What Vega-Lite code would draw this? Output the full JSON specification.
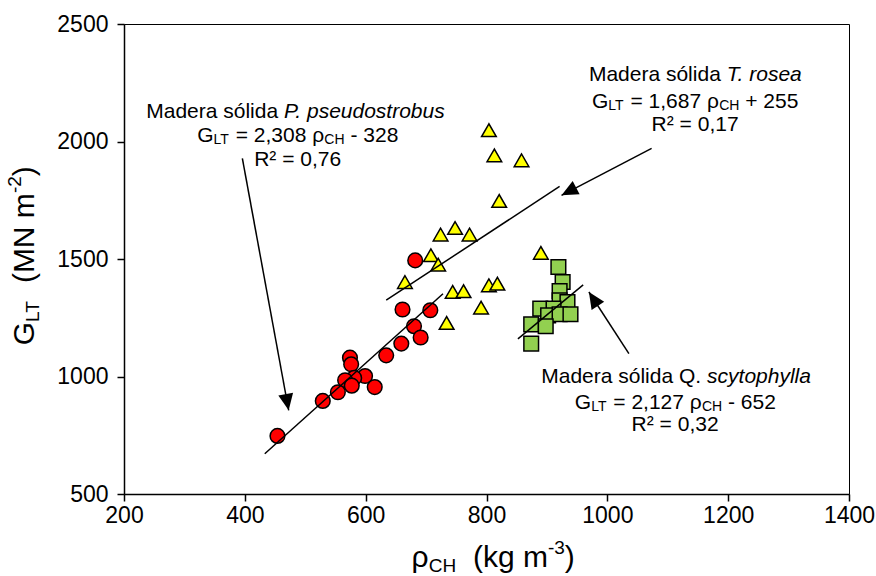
{
  "$schema": "https://vega.github.io/schema/vega-lite/v6.json",
  "width": 725,
  "height": 470,
  "autosize": {"type": "none"},
  "padding": {"left": 124, "top": 24, "right": 27, "bottom": 82},
  "background": "#ffffff",
  "config": {
    "font": "Liberation Sans",
    "view": {"stroke": "#000000", "strokeWidth": 1},
    "axis": {
      "domainColor": "#000000", "domainWidth": 1.5, "tickColor": "#000000", "tickWidth": 1.5, "tickSize": 7,
      "labelFont": "Liberation Sans", "labelFontSize": 23, "labelColor": "#000000", "grid": false,
      "labelFlush": false, "labelOverlap": false, "format": "d"
    }
  },
  "datasets": {
    "wood": [
      {"species": "P. pseudostrobus", "x": 682, "y": 1494},
      {"species": "P. pseudostrobus", "x": 661, "y": 1285},
      {"species": "P. pseudostrobus", "x": 707, "y": 1282},
      {"species": "P. pseudostrobus", "x": 680, "y": 1214},
      {"species": "P. pseudostrobus", "x": 691, "y": 1166},
      {"species": "P. pseudostrobus", "x": 659, "y": 1140},
      {"species": "P. pseudostrobus", "x": 634, "y": 1090},
      {"species": "P. pseudostrobus", "x": 574, "y": 1080},
      {"species": "P. pseudostrobus", "x": 576, "y": 1052},
      {"species": "P. pseudostrobus", "x": 599, "y": 1002},
      {"species": "P. pseudostrobus", "x": 581, "y": 994},
      {"species": "P. pseudostrobus", "x": 566, "y": 984},
      {"species": "P. pseudostrobus", "x": 577, "y": 961},
      {"species": "P. pseudostrobus", "x": 615, "y": 955},
      {"species": "P. pseudostrobus", "x": 554, "y": 933},
      {"species": "P. pseudostrobus", "x": 529, "y": 896},
      {"species": "P. pseudostrobus", "x": 454, "y": 747},
      {"species": "T. rosea", "x": 804, "y": 2048},
      {"species": "T. rosea", "x": 813, "y": 1941},
      {"species": "T. rosea", "x": 858, "y": 1920},
      {"species": "T. rosea", "x": 821, "y": 1747},
      {"species": "T. rosea", "x": 748, "y": 1632},
      {"species": "T. rosea", "x": 724, "y": 1604},
      {"species": "T. rosea", "x": 772, "y": 1604},
      {"species": "T. rosea", "x": 708, "y": 1516},
      {"species": "T. rosea", "x": 720, "y": 1476},
      {"species": "T. rosea", "x": 665, "y": 1402},
      {"species": "T. rosea", "x": 744, "y": 1360},
      {"species": "T. rosea", "x": 762, "y": 1363},
      {"species": "T. rosea", "x": 804, "y": 1388},
      {"species": "T. rosea", "x": 818, "y": 1395},
      {"species": "T. rosea", "x": 791, "y": 1293},
      {"species": "T. rosea", "x": 734, "y": 1228},
      {"species": "T. rosea", "x": 890, "y": 1526},
      {"species": "Q. scytophylla", "x": 919, "y": 1466},
      {"species": "Q. scytophylla", "x": 926, "y": 1402},
      {"species": "Q. scytophylla", "x": 921, "y": 1364},
      {"species": "Q. scytophylla", "x": 921, "y": 1324},
      {"species": "Q. scytophylla", "x": 934, "y": 1317},
      {"species": "Q. scytophylla", "x": 889, "y": 1289},
      {"species": "Q. scytophylla", "x": 911, "y": 1289},
      {"species": "Q. scytophylla", "x": 902, "y": 1260},
      {"species": "Q. scytophylla", "x": 921, "y": 1265},
      {"species": "Q. scytophylla", "x": 939, "y": 1265},
      {"species": "Q. scytophylla", "x": 874, "y": 1222},
      {"species": "Q. scytophylla", "x": 898, "y": 1214},
      {"species": "Q. scytophylla", "x": 874, "y": 1140}
    ],
    "fits": [
      {"species": "P. pseudostrobus", "x": 433, "y": 671.4, "x2": 728, "y2": 1352.2},
      {"species": "T. rosea", "x": 634, "y": 1324.6, "x2": 921, "y2": 1808.7},
      {"species": "Q. scytophylla", "x": 852, "y": 1160.2, "x2": 960, "y2": 1389.9}
    ],
    "arrows": [
      {"target": "P. pseudostrobus", "x": 395.9, "y": 1928.5, "x2": 472.6, "y2": 856.2},
      {"target": "T. rosea", "x": 1073.3, "y": 1971.1, "x2": 924.2, "y2": 1771.1},
      {"target": "Q. scytophylla", "x": 1035.7, "y": 1097.4, "x2": 969.5, "y2": 1359.6}
    ],
    "noteText": [
      {"x": 236.8, "y": 2101.7, "text": "Madera sólida"},
      {"x": 321.1, "y": 1997.9, "text": "G"},
      {"x": 384.9, "y": 1997.9, "text": "= 2,308 ρ"},
      {"x": 574.8, "y": 1997.9, "text": "- 328"},
      {"x": 415.5, "y": 1894.5, "text": "R² = 0,76"},
      {"x": 969.5, "y": 2257.4, "text": "Madera sólida"},
      {"x": 974.5, "y": 2144.3, "text": "G"},
      {"x": 1038.3, "y": 2144.3, "text": "= 1,687 ρ"},
      {"x": 1228.2, "y": 2144.3, "text": "+ 255"},
      {"x": 1073.3, "y": 2044.7, "text": "R² = 0,17"},
      {"x": 890.6, "y": 974.0, "text": "Madera sólida Q."},
      {"x": 946.1, "y": 863.4, "text": "G"},
      {"x": 1009.9, "y": 863.4, "text": "= 2,127 ρ"},
      {"x": 1199.8, "y": 863.4, "text": "- 652"},
      {"x": 1040.2, "y": 766.8, "text": "R² = 0,32"}
    ],
    "noteItalic": [
      {"x": 464.8, "y": 2101.7, "text": "P. pseudostrobus"},
      {"x": 1197.5, "y": 2257.4, "text": "T. rosea"},
      {"x": 1165.1, "y": 974.0, "text": "scytophylla"}
    ],
    "noteSub": [
      {"x": 348.1, "y": 1997.9, "text": "LT"},
      {"x": 531.6, "y": 1997.9, "text": "CH"},
      {"x": 1001.6, "y": 2144.3, "text": "LT"},
      {"x": 1185.1, "y": 2144.3, "text": "CH"},
      {"x": 973.2, "y": 863.4, "text": "LT"},
      {"x": 1156.7, "y": 863.4, "text": "CH"}
    ],
    "xTitle": [
      {"x": 675.8, "y": 188.1, "text": "ρ"},
      {"x": 777.5, "y": 188.1, "text": "(kg m"},
      {"x": 929.7, "y": 188.1, "text": ")"}
    ],
    "xTitleSub": [{"x": 704.5, "y": 188.1, "text": "CH"}],
    "xTitleSup": [{"x": 901.7, "y": 188.1, "text": "-3"}],
    "yTitle": [
      {"x": 51.4, "y": 1132.8, "text": "G"},
      {"x": 51.4, "y": 1397.4, "text": "(MN m"},
      {"x": 51.4, "y": 1852.3, "text": ")"}
    ],
    "yTitleSub": [{"x": 51.4, "y": 1231.9, "text": "LT"}],
    "yTitleSup": [{"x": 51.4, "y": 1780.4, "text": "-2"}]
  },
  "encoding": {
    "x": {"field": "x", "type": "quantitative",
      "scale": {"domain": [200, 1400], "nice": false, "zero": false},
      "axis": {"title": null, "values": [200, 400, 600, 800, 1000, 1200, 1400], "labelPadding": 3}},
    "y": {"field": "y", "type": "quantitative",
      "scale": {"domain": [500, 2500], "nice": false, "zero": false},
      "axis": {"title": null, "values": [500, 1000, 1500, 2000, 2500], "labelPadding": 9}}
  },
  "layer": [
    {
      "data": {"name": "wood"},
      "mark": {"type": "point", "filled": true, "stroke": "#000000", "strokeWidth": 1.5, "size": 215, "opacity": 1},
      "encoding": {
        "shape": {"field": "species", "type": "nominal", "legend": null,
          "scale": {"domain": ["P. pseudostrobus", "T. rosea", "Q. scytophylla"], "range": ["circle", "triangle-up", "square"]}},
        "fill": {"field": "species", "type": "nominal", "legend": null,
          "scale": {"domain": ["P. pseudostrobus", "T. rosea", "Q. scytophylla"], "range": ["#FF0000", "#FFFF00", "#92D050"]}}
      }
    },
    {
      "data": {"name": "fits"},
      "mark": {"type": "rule", "color": "#000000", "strokeWidth": 1.5},
      "encoding": {"x2": {"field": "x2"}, "y2": {"field": "y2"}}
    },
    {
      "data": {"name": "arrows"},
      "mark": {"type": "rule", "color": "#000000", "strokeWidth": 1.5},
      "encoding": {"x2": {"field": "x2"}, "y2": {"field": "y2"}}
    },
    {
      "data": {"name": "arrows"},
      "transform": [{"filter": "datum.target === 'P. pseudostrobus'"}],
      "mark": {"type": "point", "shape": "M0,0L-0.5,1.1L0.5,1.1Z", "angle": 169.6, "filled": true, "color": "#000000", "size": 900, "opacity": 1},
      "encoding": {"x": {"field": "x2", "type": "quantitative"}, "y": {"field": "y2", "type": "quantitative"}}
    },
    {
      "data": {"name": "arrows"},
      "transform": [{"filter": "datum.target === 'T. rosea'"}],
      "mark": {"type": "point", "shape": "M0,0L-0.5,1.1L0.5,1.1Z", "angle": 242.4, "filled": true, "color": "#000000", "size": 900, "opacity": 1},
      "encoding": {"x": {"field": "x2", "type": "quantitative"}, "y": {"field": "y2", "type": "quantitative"}}
    },
    {
      "data": {"name": "arrows"},
      "transform": [{"filter": "datum.target === 'Q. scytophylla'"}],
      "mark": {"type": "point", "shape": "M0,0L-0.5,1.1L0.5,1.1Z", "angle": 327, "filled": true, "color": "#000000", "size": 900, "opacity": 1},
      "encoding": {"x": {"field": "x2", "type": "quantitative"}, "y": {"field": "y2", "type": "quantitative"}}
    },
    {
      "data": {"name": "noteText"},
      "mark": {"type": "text", "align": "left", "baseline": "alphabetic", "fontSize": 21, "color": "#000000"},
      "encoding": {"text": {"field": "text"}}
    },
    {
      "data": {"name": "noteItalic"},
      "mark": {"type": "text", "align": "left", "baseline": "alphabetic", "fontSize": 21, "fontStyle": "italic", "color": "#000000"},
      "encoding": {"text": {"field": "text"}}
    },
    {
      "data": {"name": "noteSub"},
      "mark": {"type": "text", "align": "left", "baseline": "alphabetic", "fontSize": 14, "dy": 2, "color": "#000000"},
      "encoding": {"text": {"field": "text"}}
    },
    {
      "data": {"name": "xTitle"},
      "mark": {"type": "text", "align": "left", "baseline": "alphabetic", "fontSize": 30, "color": "#000000"},
      "encoding": {"text": {"field": "text"}}
    },
    {
      "data": {"name": "xTitleSub"},
      "mark": {"type": "text", "align": "left", "baseline": "alphabetic", "fontSize": 19, "dy": 5, "color": "#000000"},
      "encoding": {"text": {"field": "text"}}
    },
    {
      "data": {"name": "xTitleSup"},
      "mark": {"type": "text", "align": "left", "baseline": "alphabetic", "fontSize": 19, "dy": -13, "color": "#000000"},
      "encoding": {"text": {"field": "text"}}
    },
    {
      "data": {"name": "yTitle"},
      "mark": {"type": "text", "align": "left", "baseline": "alphabetic", "angle": 270, "fontSize": 30, "color": "#000000"},
      "encoding": {"text": {"field": "text"}}
    },
    {
      "data": {"name": "yTitleSub"},
      "mark": {"type": "text", "align": "left", "baseline": "alphabetic", "angle": 270, "fontSize": 19, "dy": 5, "color": "#000000"},
      "encoding": {"text": {"field": "text"}}
    },
    {
      "data": {"name": "yTitleSup"},
      "mark": {"type": "text", "align": "left", "baseline": "alphabetic", "angle": 270, "fontSize": 19, "dy": -13, "color": "#000000"},
      "encoding": {"text": {"field": "text"}}
    }
  ]
}
